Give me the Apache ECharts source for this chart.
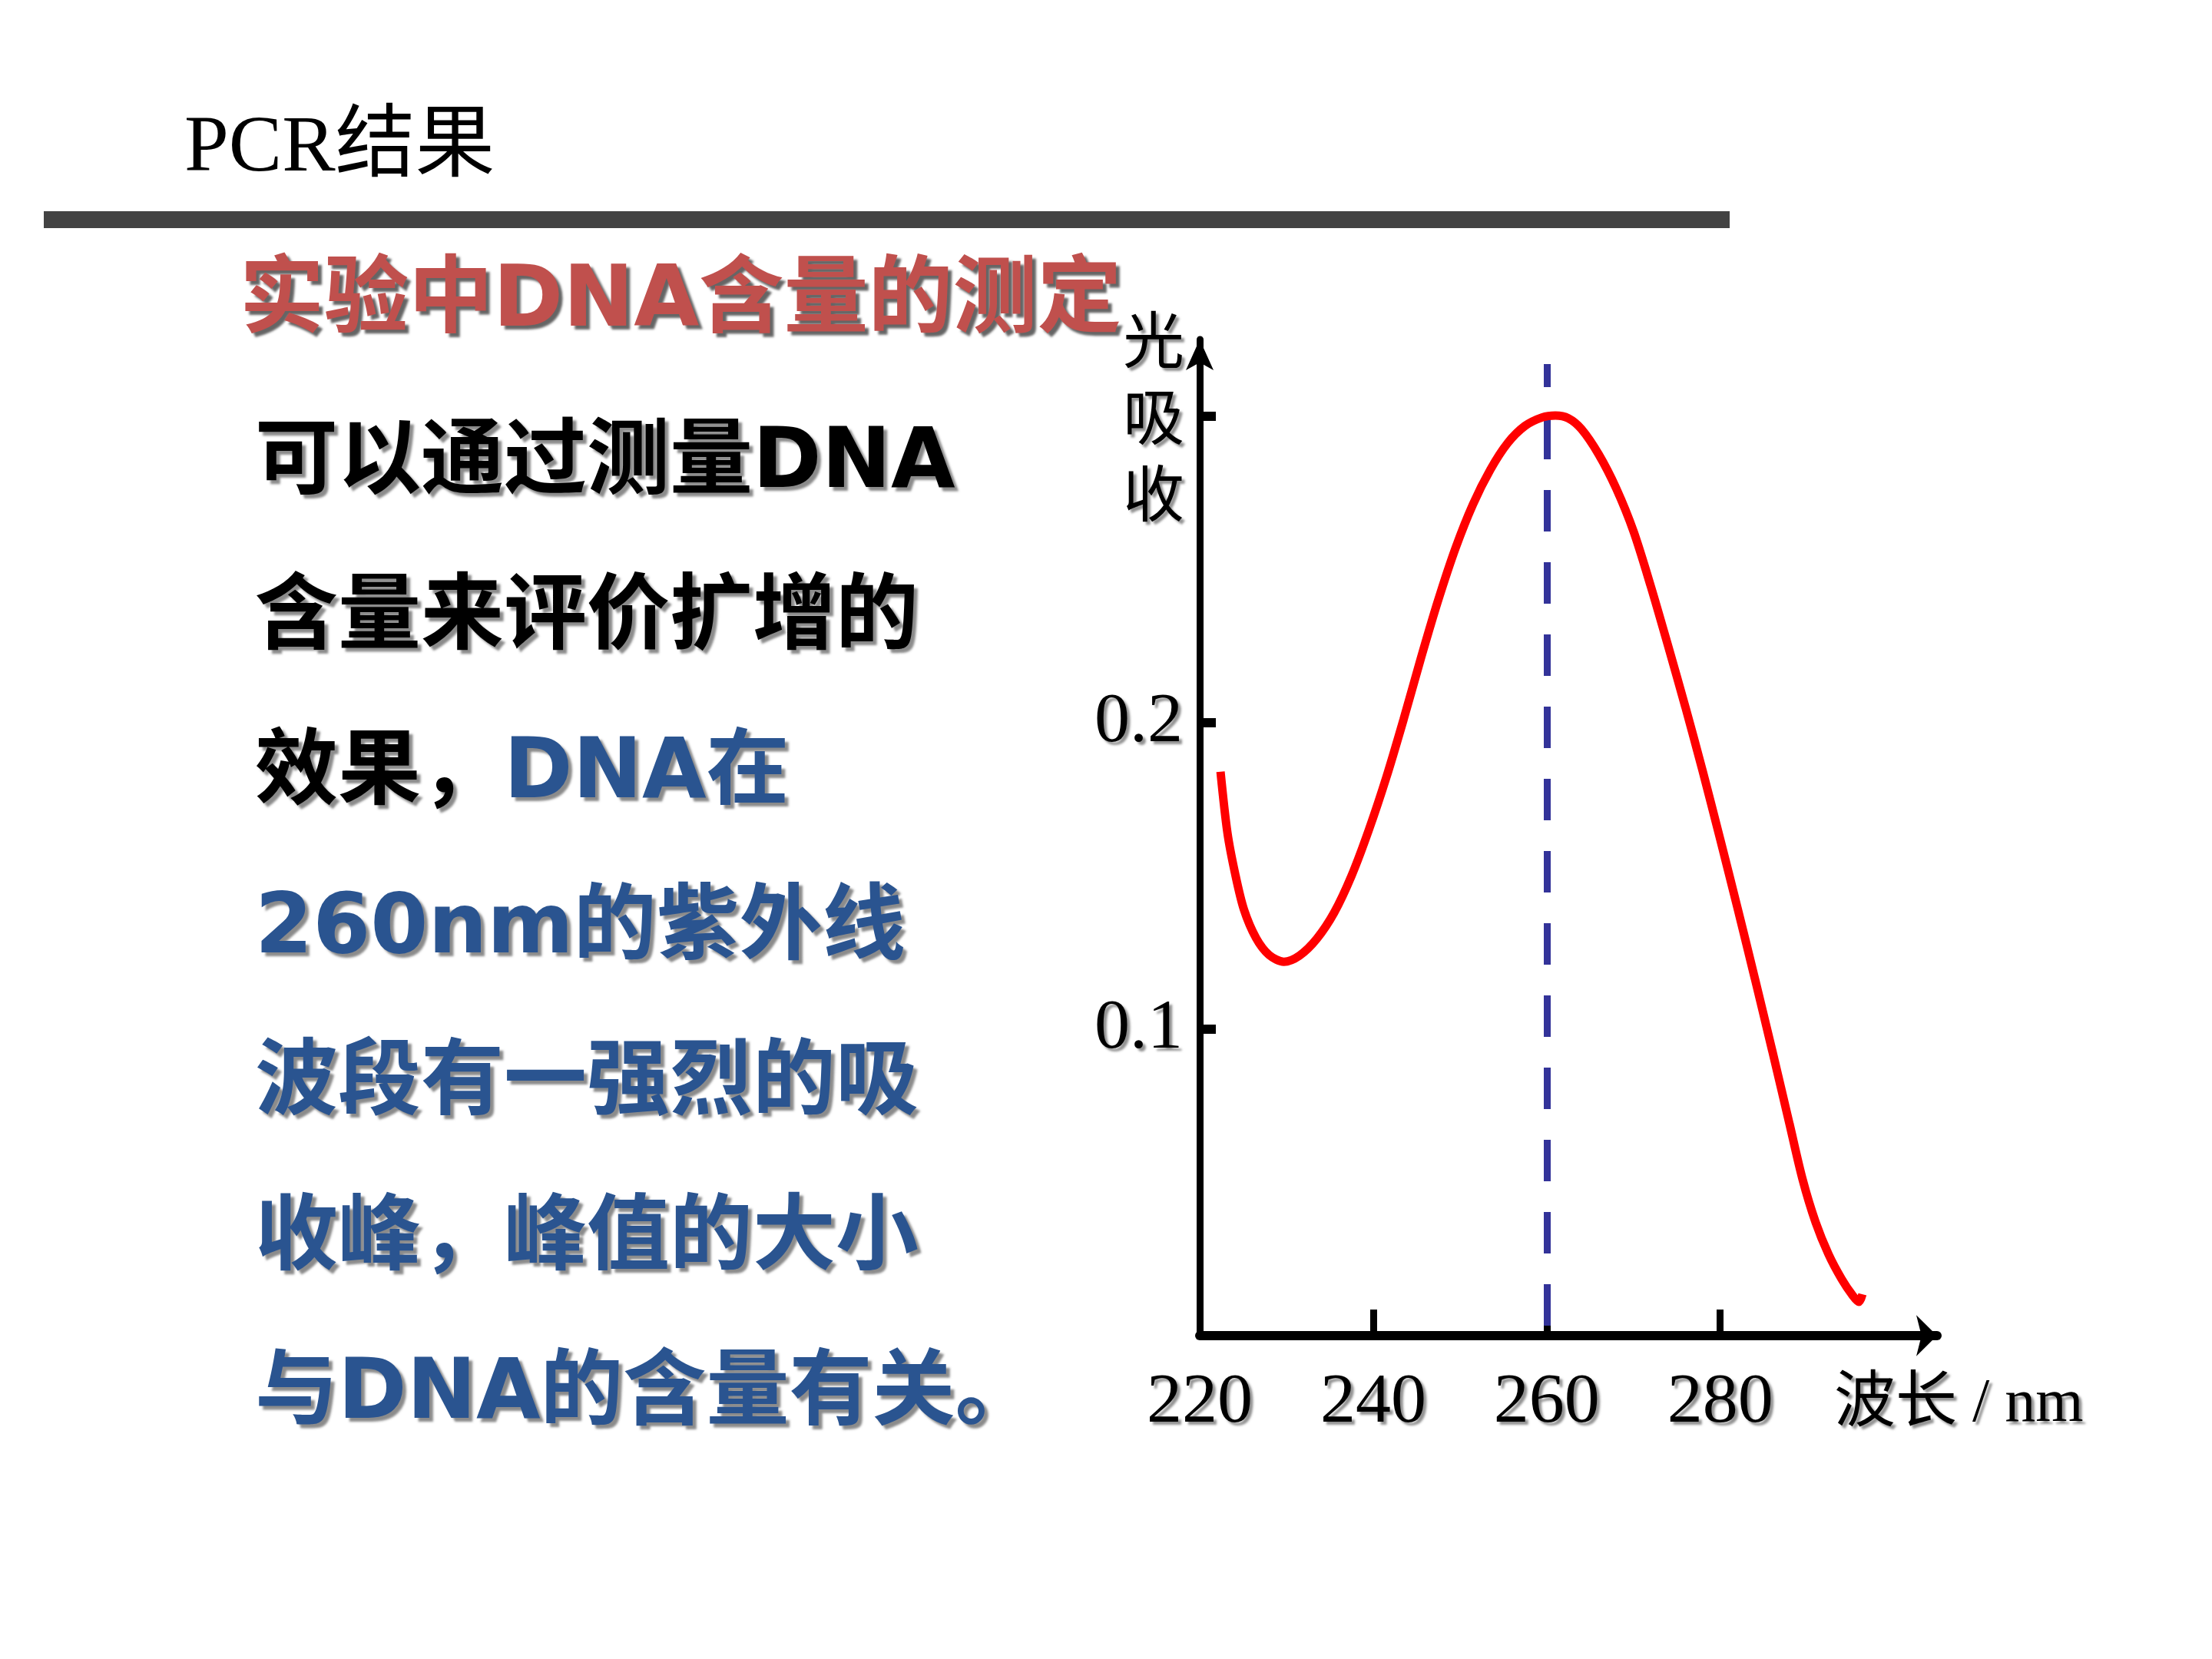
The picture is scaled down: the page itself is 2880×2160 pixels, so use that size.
<!DOCTYPE html>
<html>
<head>
<meta charset="utf-8">
<title>PCR结果</title>
<script src="https://cdn.jsdelivr.net/npm/echarts@6.0.0/dist/echarts.min.js"></script>
<style>
  html, body { margin: 0; padding: 0; background: #fff; }
  #main { width: 2880px; height: 2160px; }
</style>
</head>
<body>
<div id="main"></div>
<script>
  /*************************************
   *
   * data
   *
   ************************************/
  var wavelength = [222.4, 223.2, 224.1, 225.1, 226.5, 228.0, 229.7, 231.5, 233.5, 235.5,
                    237.5, 239.5, 241.5, 243.5, 245.5, 247.5, 249.5, 251.5, 253.5, 255.5,
                    257.5, 259.5, 261.0, 262.5, 264.0, 266.0, 268.0, 270.0, 272.0, 274.0,
                    276.0, 278.0, 280.0, 282.0, 284.0, 286.0, 288.0, 289.5, 291.0, 292.5,
                    294.0, 295.3, 296.0, 296.4];
  var absorbance = [0.184, 0.164, 0.1505, 0.139, 0.1297, 0.1242, 0.122, 0.124, 0.1295, 0.138,
                    0.150, 0.165, 0.182, 0.201, 0.221, 0.240, 0.257, 0.2712, 0.2825, 0.2912,
                    0.2968, 0.2996, 0.3002, 0.2993, 0.2958, 0.2875, 0.2765, 0.2625, 0.2445, 0.225,
                    0.205, 0.184, 0.162, 0.1395, 0.1165, 0.093, 0.069, 0.051, 0.037, 0.0265,
                    0.0185, 0.013, 0.011, 0.0135];
  var peakNm = 260;
  var peakLineTop = 0.317;

  var xLabelValues = [220, 240, 260, 280];
  var xTickValues = [240, 260, 280];
  var yLabelValues = [0.1, 0.2];
  var yTickValues = [0.1, 0.2, 0.3];

  var slideTitle = 'PCR结果';
  var subTitle = '实验中DNA含量的测定';
  // each line: [black part, blue part]
  var bodyLines = [
    ['可以通过测量DNA', ''],
    ['含量来评价扩增的', ''],
    ['效果，', 'DNA在'],
    ['', '260nm的紫外线'],
    ['', '波段有一强烈的吸'],
    ['', '收峰，峰值的大小'],
    ['', '与DNA的含量有关。']
  ];

  var chart = echarts.init(document.getElementById('main'));

  var cjk = '"Noto Sans CJK SC"';
  // wide latin letters, chinese falls back to Noto
  var heavy = '"DejaVu Sans", "Noto Sans CJK SC"';
  var serif = '"Liberation Serif", "Noto Sans CJK SC", serif';
  var labelShadow = {
    textShadowColor: 'rgba(110,110,110,0.75)',
    textShadowBlur: 3,
    textShadowOffsetX: 4,
    textShadowOffsetY: 4
  };

  function bodyStyle(color) {
    return {
      fill: color,
      fontSize: 108,
      fontFamily: heavy,
      fontWeight: 'bold',
      textShadowColor: 'rgba(90,90,90,0.7)',
      textShadowBlur: 3,
      textShadowOffsetX: 5,
      textShadowOffsetY: 5
    };
  }

  var graphics = [
    {
      type: 'text',
      x: 240,
      y: 195,
      style: {
        text: slideTitle,
        fontSize: 104,
        fontFamily: serif,
        fill: '#000',
        align: 'left',
        verticalAlign: 'middle'
      }
    },
    {
      type: 'rect',
      shape: { x: 57, y: 275, width: 2195, height: 22 },
      style: { fill: '#434343' }
    },
    {
      type: 'text',
      x: 312,
      y: 395,
      style: {
        text: subTitle,
        fontSize: 110,
        fontFamily: heavy,
        fontWeight: 'bold',
        fill: '#C0504D',
        align: 'left',
        verticalAlign: 'middle',
        textShadowColor: 'rgba(50,50,50,0.75)',
        textShadowBlur: 3,
        textShadowOffsetX: 5,
        textShadowOffsetY: 5
      }
    }
  ];

  bodyLines.forEach(function (seg, i) {
    var txt = '';
    if (seg[0]) txt += '{k|' + seg[0] + '}';
    if (seg[1]) txt += '{b|' + seg[1] + '}';
    graphics.push({
      type: 'text',
      x: 332,
      y: 606 + 202 * i,
      style: {
        text: txt,
        align: 'left',
        verticalAlign: 'middle',
        rich: {
          k: bodyStyle('#000000'),
          b: bodyStyle('#2A5490')
        }
      }
    });
  });

  var option = {
    backgroundColor: '#ffffff',
    animation: false,
    graphic: graphics,
    grid: {
      left: 1562,
      top: 442,
      width: 960,
      height: 1297
    },
    xAxis: {
      type: 'value',
      min: 220,
      max: 305,
      name: '波长 / nm',
      nameLocation: 'end',
      nameGap: -134,
      nameMoveOverlap: false,
      nameTextStyle: Object.assign({
        color: '#000',
        fontSize: 80,
        lineHeight: 180,
        fontFamily: serif,
        align: 'left',
        verticalAlign: 'top'
      }, labelShadow),
      axisLine: {
        show: true,
        symbol: ['none', 'arrow'],
        symbolSize: [40, 27],
        lineStyle: { color: '#000', width: 12 }
      },
      axisTick: {
        show: true,
        inside: true,
        length: 34,
        customValues: xTickValues,
        lineStyle: { color: '#000', width: 9 }
      },
      axisLabel: Object.assign({
        customValues: xLabelValues,
        margin: 42,
        color: '#000',
        fontSize: 92,
        fontFamily: serif
      }, labelShadow),
      splitLine: { show: false }
    },
    yAxis: {
      type: 'value',
      min: 0,
      max: 0.325,
      name: '光\n吸\n收',
      nameLocation: 'end',
      nameGap: 50,
      nameMoveOverlap: false,
      nameTextStyle: Object.assign({
        color: '#000',
        fontSize: 80,
        lineHeight: 100,
        fontFamily: cjk,
        align: 'right',
        verticalAlign: 'top',
        padding: [0, 20, 0, 0]
      }, labelShadow),
      axisLine: {
        show: true,
        symbol: ['none', 'arrow'],
        symbolSize: [27, 40],
        lineStyle: { color: '#000', width: 9 }
      },
      axisTick: {
        show: true,
        inside: true,
        length: 21,
        customValues: yTickValues,
        lineStyle: { color: '#000', width: 12 }
      },
      axisLabel: Object.assign({
        customValues: yLabelValues,
        margin: 22,
        color: '#000',
        fontSize: 92,
        fontFamily: serif,
        formatter: function (v) { return v.toFixed(1); }
      }, labelShadow),
      splitLine: { show: false }
    },
    series: [
      {
        name: '光吸收',
        type: 'line',
        z: 6,
        smooth: 0.3,
        symbol: 'none',
        silent: true,
        data: wavelength.map(function (w, i) { return [w, absorbance[i]]; }),
        lineStyle: { color: '#FF0000', width: 11 }
      },
      {
        name: '260nm',
        type: 'line',
        z: 1,
        data: [],
        markLine: {
          silent: true,
          symbol: ['none', 'none'],
          label: { show: false },
          lineStyle: {
            color: '#333399',
            width: 9,
            type: [54, 40],
            dashOffset: 81
          },
          data: [
            [ { coord: [peakNm, 0] }, { coord: [peakNm, peakLineTop] } ]
          ]
        }
      }
    ]
  };

  chart.setOption(option);
</script>
</body>
</html>
